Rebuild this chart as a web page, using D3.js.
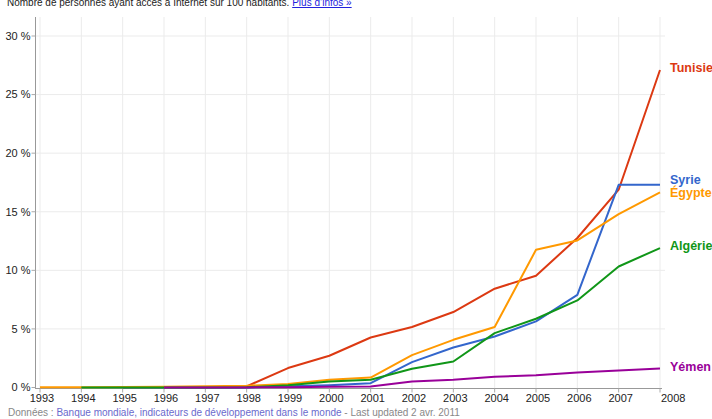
<!DOCTYPE html>
<html>
<head>
<meta charset="utf-8">
<script src="https://cdn.jsdelivr.net/npm/d3@7"></script>
<style>
  body { margin: 0; background: #fff; }
  svg { display: block; font-family: "Liberation Sans", Arial, sans-serif; }
</style>
</head>
<body>
<svg id="chart" width="712" height="419"></svg>
<script>
// data (internet users per 100 inhabitants)
const years = d3.range(1993, 2009);
const tunisie = [null, null, 0.01, 0.02, 0.03, 0.1, 1.66, 2.71, 4.27, 5.16, 6.44, 8.43, 9.54, 12.76, 16.88, 27.1];
const syrie = [null, null, 0.0, 0.0, 0.0, 0.0, 0.1, 0.2, 0.37, 2.17, 3.41, 4.35, 5.64, 7.91, 17.3, 17.3];
const egypte = [0.02, 0.03, 0.05, 0.07, 0.1, 0.15, 0.3, 0.66, 0.85, 2.76, 4.07, 5.16, 11.75, 12.55, 14.8, 16.65];
const algerie = [null, 0.0, 0.0, 0.0, 0.01, 0.02, 0.2, 0.51, 0.66, 1.6, 2.22, 4.64, 5.87, 7.43, 10.33, 11.9];
const yemen = [null, null, null, 0.0, 0.01, 0.01, 0.02, 0.06, 0.08, 0.51, 0.66, 0.91, 1.05, 1.28, 1.45, 1.62];
const names = ['Tunisie', 'Syrie', 'Égypte', 'Algérie', 'Yémen'];
const colors = ['#dc3912', '#3366cc', '#ff9900', '#109618', '#990099'];
const yTicks = [0, 5, 10, 15, 20, 25, 30];

const series = [tunisie, syrie, egypte, algerie, yemen];
const labelY = [68, 180, 193, 246, 367];

const svg = d3.select('#chart');

const x = d3.scaleLinear().domain([1993, 2008]).range([40, 660]);
const y = d3.scaleLinear().domain([0, 30]).range([387.5, 36]);

// gridlines
svg.append('g')
  .selectAll('line')
  .data(years)
  .enter()
  .append('line')
  .attr('x1', (d) => x(d))
  .attr('x2', (d) => x(d))
  .attr('y1', 17)
  .attr('y2', 388)
  .attr('stroke', '#ebebeb');

svg.append('g')
  .selectAll('line')
  .data(yTicks.slice(1))
  .enter()
  .append('line')
  .attr('x1', 35)
  .attr('x2', 665)
  .attr('y1', (d) => y(d))
  .attr('y2', (d) => y(d))
  .attr('stroke', '#ebebeb');

// y axis
const yAxis = svg.append('g').attr('transform', 'translate(35.5,0)');
yAxis.append('line')
  .attr('y1', 17)
  .attr('y2', 388)
  .attr('stroke', '#999');
yAxis.selectAll('.tick')
  .data(yTicks)
  .enter()
  .append('line')
  .attr('x1', -4)
  .attr('x2', 0)
  .attr('y1', (d) => y(d))
  .attr('y2', (d) => y(d))
  .attr('stroke', '#aaa');
yAxis.selectAll('text')
  .data(yTicks)
  .enter()
  .append('text')
  .attr('x', -5)
  .attr('y', (d) => y(d))
  .attr('dy', '0.35em')
  .attr('text-anchor', 'end')
  .attr('font-size', 11)
  .attr('fill', '#222')
  .text((d) => d + ' %');

// x axis
const xAxis = svg.append('g').attr('transform', 'translate(0,388.5)');
xAxis.append('line')
  .attr('x1', 35)
  .attr('x2', 662)
  .attr('stroke', '#999');
xAxis.selectAll('.tick')
  .data(years)
  .enter()
  .append('line')
  .attr('x1', (d) => x(d))
  .attr('x2', (d) => x(d))
  .attr('y1', 0)
  .attr('y2', 4)
  .attr('stroke', '#aaa');
xAxis.selectAll('text')
  .data(years)
  .enter()
  .append('text')
  .attr('x', (d) => (d === 2008 ? x(d) + 1 : x(d) + 2))
  .attr('y', 13)
  .attr('text-anchor', (d) => (d === 2008 ? 'start' : 'middle'))
  .attr('font-size', 11)
  .attr('fill', '#222')
  .text((d) => d);

// lines
const line = d3.line()
  .defined((d) => d[1] !== null)
  .x((d) => x(d[0]))
  .y((d) => y(d[1]));

series.forEach((vals, i) => {
  svg.append('path')
    .datum(years.map((yr, j) => [yr, vals[j]]))
    .attr('fill', 'none')
    .attr('stroke', colors[i])
    .attr('stroke-width', 2)
    .attr('stroke-linejoin', 'round')
    .attr('d', line);
});

// series labels
svg.append('g')
  .selectAll('text')
  .data(names)
  .enter()
  .append('text')
  .attr('x', 670)
  .attr('y', (d, i) => labelY[i])
  .attr('dy', '0.35em')
  .attr('font-size', 12.5)
  .attr('font-weight', 'bold')
  .attr('fill', (d, i) => colors[i])
  .text((d) => d);

// header (cut at the top edge, as in the original)
const head = svg.append('text')
  .attr('x', 7)
  .attr('y', 6)
  .attr('font-size', 10)
  .attr('fill', '#222');
head.append('tspan').text('Nombre de personnes ayant accès à Internet sur 100 habitants. ');
head.append('tspan')
  .attr('fill', '#2222dd')
  .attr('text-decoration', 'underline')
  .text('Plus d’infos »');

// footer
const foot = svg.append('text')
  .attr('x', 8)
  .attr('y', 416)
  .attr('font-size', 10)
  .attr('fill', '#888');
foot.append('tspan').text('Données : ');
foot.append('tspan')
  .attr('fill', '#6a6acd')
  .text('Banque mondiale, indicateurs de développement dans le monde');
foot.append('tspan').text(' - Last updated 2 avr. 2011');
</script>
</body>
</html>
